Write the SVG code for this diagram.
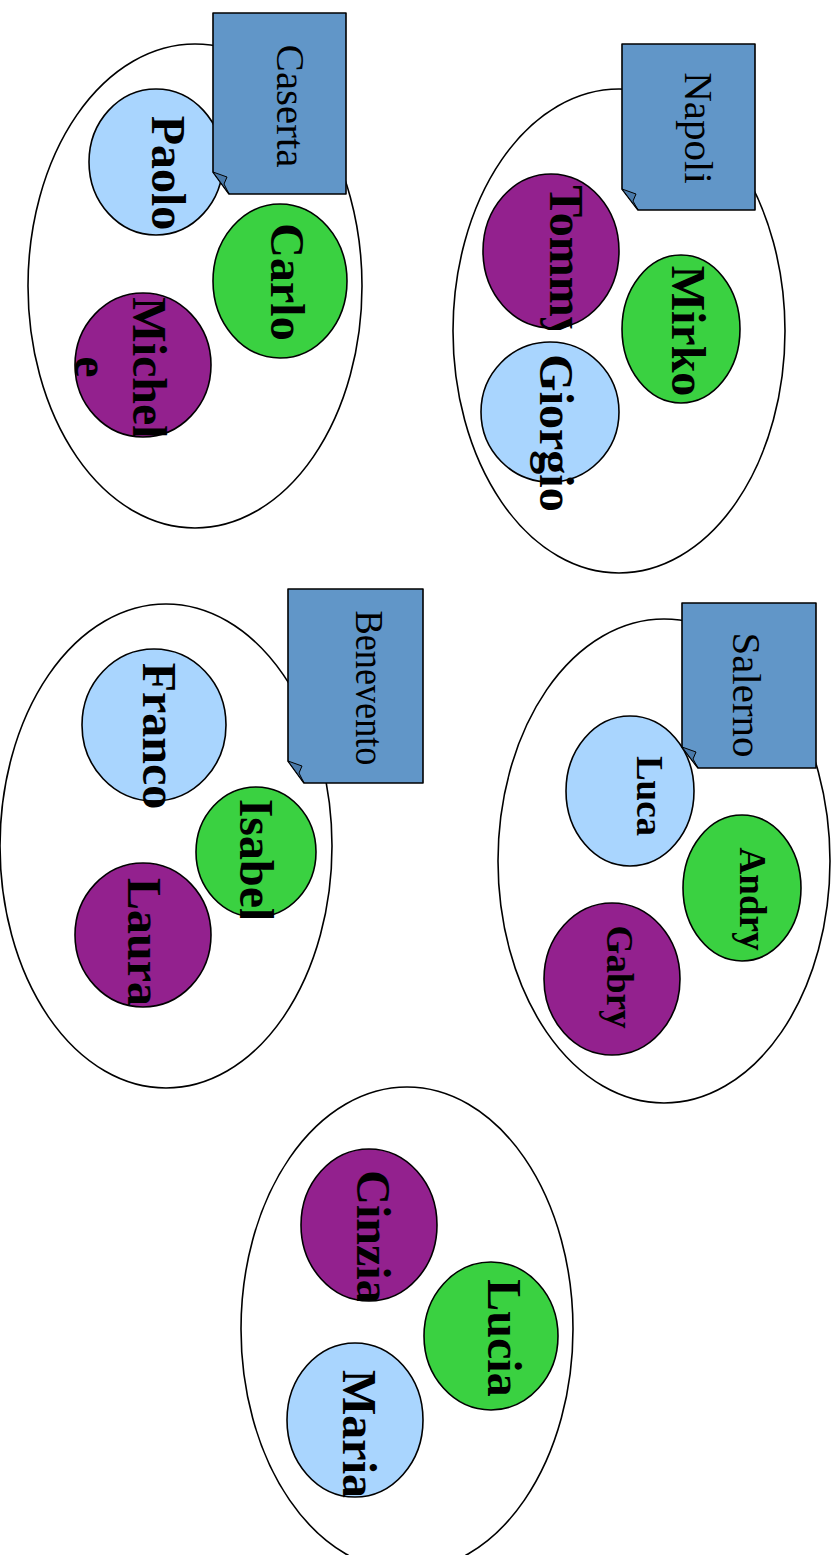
<svg xmlns="http://www.w3.org/2000/svg" width="838" height="1555" viewBox="0 0 838 1555">
<style>
.cl{fill:#ffffff;stroke:#000;stroke-width:1.6}
.bl{fill:#A9D5FE;stroke:#000;stroke-width:1.6}
.gr{fill:#3AD141;stroke:#000;stroke-width:1.6}
.pu{fill:#93218E;stroke:#000;stroke-width:1.6}
.note{fill:#6196C8;stroke:#000;stroke-width:1.6;stroke-linejoin:round}
.fold{fill:#4A7AAA;stroke:#000;stroke-width:1}
.nm{font-family:"Liberation Serif","Times New Roman",serif;font-weight:bold;font-size:48px;fill:#000;text-anchor:middle}
.nm2{font-family:"Liberation Serif","Times New Roman",serif;font-weight:bold;font-size:37px;fill:#000;text-anchor:middle}
.nt{font-family:"Liberation Serif","Times New Roman",serif;font-size:41px;fill:#000;text-anchor:middle}
</style>
<defs>
<clipPath id="cTommy"><rect x="470" y="170" width="160" height="160"/></clipPath>
<clipPath id="cIsabel"><rect x="190" y="780" width="140" height="138"/></clipPath>
<clipPath id="cCinzia"><rect x="295" y="1140" width="150" height="161"/></clipPath>
<clipPath id="cMichele"><rect x="60" y="285" width="160" height="152"/></clipPath>
</defs>

<!-- Caserta cluster -->
<g id="cluster-caserta">
<ellipse class="cl" cx="195" cy="286" rx="167" ry="242"/>
</g>
<g id="node-paolo">
<ellipse class="bl" cx="156" cy="162" rx="67" ry="73"/>
<text class="nm" transform="translate(152,173) rotate(90)">Paolo</text>
</g>
<g id="node-carlo">
<ellipse class="gr" cx="280" cy="281" rx="67" ry="77"/>
<text class="nm" transform="translate(271,282) rotate(90)">Carlo</text>
</g>
<g id="node-michele">
<ellipse class="pu" cx="143" cy="365" rx="68" ry="72"/>
<g clip-path="url(#cMichele)">
<text class="nm" transform="translate(133,368) rotate(90)">Michel</text>
</g>
<text class="nm" transform="translate(75,367) rotate(90)">e</text>
</g>
<g id="note-caserta">
<path class="note" d="M213,13 H346 V194 H229 L213,172 Z"/>
<path class="fold" d="M213,172 L227,177 L224,184 L229,194 Z"/>
<text class="nt" font-size="42" transform="translate(277,106) rotate(90)">Caserta</text>
</g>

<!-- Napoli cluster -->
<g id="cluster-napoli">
<ellipse class="cl" cx="619" cy="331" rx="166" ry="242"/>
</g>
<g id="node-tommy">
<ellipse class="pu" cx="551" cy="251" rx="68" ry="77"/>
<g clip-path="url(#cTommy)">
<text class="nm" transform="translate(550,263) rotate(90)">Tommy</text>
</g>
</g>
<g id="node-mirko">
<ellipse class="gr" cx="681" cy="329" rx="59" ry="74"/>
<text class="nm" transform="translate(672,331) rotate(90)">Mirko</text>
</g>
<g id="node-giorgio">
<ellipse class="bl" cx="550" cy="412" rx="69" ry="70"/>
<text class="nm" transform="translate(540,433) rotate(90)">Giorgio</text>
</g>
<g id="note-napoli">
<path class="note" d="M622,44 H755 V210 H638 L622,189 Z"/>
<path class="fold" d="M622,189 L636,194 L633,201 L638,210 Z"/>
<text class="nt" transform="translate(685,128) rotate(90)">Napoli</text>
</g>

<!-- Benevento cluster -->
<g id="cluster-benevento">
<ellipse class="cl" cx="166" cy="846" rx="166" ry="242"/>
</g>
<g id="node-franco">
<ellipse class="bl" cx="154" cy="725" rx="72" ry="76"/>
<text class="nm" transform="translate(143,736) rotate(90)">Franco</text>
</g>
<g id="node-isabel">
<ellipse class="gr" cx="256" cy="852" rx="60" ry="65"/>
<g clip-path="url(#cIsabel)">
<text class="nm" transform="translate(240,860) rotate(90)">Isabel</text>
</g>
</g>
<g id="node-laura">
<ellipse class="pu" cx="143" cy="935" rx="68" ry="72"/>
<text class="nm" transform="translate(128,942) rotate(90)">Laura</text>
</g>
<g id="note-benevento">
<path class="note" d="M288,589 H423 V783 H304 L288,761 Z"/>
<path class="fold" d="M288,761 L302,766 L299,773 L304,783 Z"/>
<text class="nt" font-size="37" textLength="155" lengthAdjust="spacingAndGlyphs" transform="translate(356,688) rotate(90)">Benevento</text>
</g>

<!-- Salerno cluster -->
<g id="cluster-salerno">
<ellipse class="cl" cx="664" cy="861" rx="166" ry="242"/>
</g>
<g id="node-luca">
<ellipse class="bl" cx="630" cy="791" rx="64" ry="75"/>
<text class="nm2" transform="translate(637,796) rotate(90)">Luca</text>
</g>
<g id="node-andry">
<ellipse class="gr" cx="742" cy="888" rx="59" ry="73"/>
<text class="nm2" transform="translate(740,899) rotate(90)">Andry</text>
</g>
<g id="node-gabry">
<ellipse class="pu" cx="612" cy="979" rx="68" ry="76"/>
<text class="nm2" transform="translate(607,977) rotate(90)">Gabry</text>
</g>
<g id="note-salerno">
<path class="note" d="M682,603 H816 V768 H698 L682,747 Z"/>
<path class="fold" d="M682,747 L696,752 L693,759 L698,768 Z"/>
<text class="nt" font-size="31" textLength="125" lengthAdjust="spacingAndGlyphs" transform="translate(733,695) rotate(90)">Salerno</text>
</g>

<!-- Sixth cluster -->
<g id="cluster-6">
<ellipse class="cl" cx="407" cy="1329" rx="166" ry="242"/>
</g>
<g id="node-cinzia">
<ellipse class="pu" cx="369" cy="1225" rx="68" ry="76"/>
<g clip-path="url(#cCinzia)">
<text class="nm" transform="translate(357,1237) rotate(90)">Cinzia</text>
</g>
</g>
<g id="node-lucia">
<ellipse class="gr" cx="491" cy="1336" rx="67" ry="74"/>
<text class="nm" transform="translate(488,1338) rotate(90)">Lucia</text>
</g>
<g id="node-maria">
<ellipse class="bl" cx="355" cy="1420" rx="68" ry="77"/>
<text class="nm" transform="translate(343,1434) rotate(90)">Maria</text>
</g>

<g id="connectors"/>
</svg>
